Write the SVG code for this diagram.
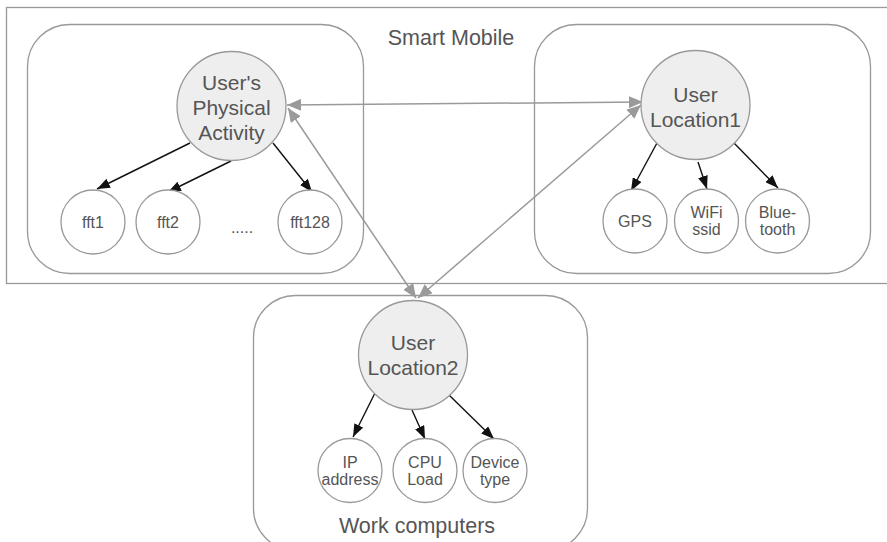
<svg xmlns="http://www.w3.org/2000/svg" width="887" height="542" viewBox="0 0 887 542">
<defs>
<style>
.box{fill:none;stroke:#999;stroke-width:1.3}
.big{fill:#eeeeee;stroke:#999;stroke-width:1.3}
.small{fill:#fff;stroke:#999;stroke-width:1.3}
text{font-family:"Liberation Sans",Arial,sans-serif;fill:#555;text-anchor:middle}
.t21{font-size:21px}
.t16{font-size:16px}
.t22{font-size:21.5px}
.g{stroke:#9a9a9a;stroke-width:1.5;fill:none;marker-start:url(#ga);marker-end:url(#ga)}
.k{stroke:#111;stroke-width:1.4;fill:none;marker-end:url(#ka)}
</style>
<marker id="ga" markerUnits="userSpaceOnUse" markerWidth="14" markerHeight="12" refX="14" refY="6" orient="auto-start-reverse" viewBox="0 0 14 12">
<path d="M0,0 L14,6 L0,12 z" fill="#9a9a9a"/>
</marker>
<marker id="ka" markerUnits="userSpaceOnUse" markerWidth="13" markerHeight="10" refX="13" refY="5" orient="auto" viewBox="0 0 13 10">
<path d="M0,0 L13,5 L0,10 z" fill="#111"/>
</marker>
</defs>

<g id="smart-mobile">
<rect class="box" x="6.5" y="7.5" width="900" height="276"/>
<text class="t22" x="451" y="45">Smart Mobile</text>
</g>
<g id="activity-group"><rect class="box" x="27.5" y="24.5" width="336" height="249" rx="42"/></g>
<g id="location1-group"><rect class="box" x="534.5" y="24.5" width="336" height="249" rx="42"/></g>
<g id="work-computers">
<rect class="box" x="253.5" y="295.5" width="334" height="255" rx="42"/>
<text class="t22" x="417" y="533">Work computers</text>
</g>

<g id="connectors">
<line class="g" x1="287" y1="105" x2="643" y2="102"/>
<line class="g" x1="288" y1="108" x2="416" y2="298"/>
<line class="g" x1="641" y1="105" x2="418" y2="298"/>
<line class="k" x1="190" y1="143" x2="97" y2="189"/>
<line class="k" x1="231" y1="161" x2="168" y2="192"/>
<line class="k" x1="273" y1="143" x2="312" y2="192"/>
<line class="k" x1="657" y1="143" x2="631" y2="191"/>
<line class="k" x1="698" y1="162" x2="707" y2="189"/>
<line class="k" x1="734" y1="143" x2="778" y2="188"/>
<line class="k" x1="375" y1="393" x2="353" y2="437"/>
<line class="k" x1="412" y1="410" x2="425" y2="439"/>
<line class="k" x1="449" y1="395" x2="494" y2="439"/>
</g>

<g id="physical-activity">
<circle class="big" cx="231.5" cy="106" r="54.5"/>
<text class="t21" x="231.5" y="90">User's</text>
<text class="t21" x="231.5" y="115">Physical</text>
<text class="t21" x="231.5" y="140">Activity</text>
</g>
<g id="fft1"><circle class="small" cx="93" cy="222" r="32"/><text class="t16" x="93" y="228">fft1</text></g>
<g id="fft2"><circle class="small" cx="168" cy="222" r="32"/><text class="t16" x="168" y="228">fft2</text></g>
<g id="dots"><text class="t16" x="242" y="233">.....</text></g>
<g id="fft128"><circle class="small" cx="310" cy="222" r="32"/><text class="t16" x="310" y="228">fft128</text></g>

<g id="user-location1">
<circle class="big" cx="695.5" cy="105" r="54.5"/>
<text class="t21" x="695.5" y="102">User</text>
<text class="t21" x="695.5" y="127">Location1</text>
</g>
<g id="gps"><circle class="small" cx="635" cy="221" r="32"/><text class="t16" x="635" y="227">GPS</text></g>
<g id="wifi"><circle class="small" cx="706.5" cy="221" r="32"/><text class="t16" x="706.5" y="218">WiFi</text><text class="t16" x="706.5" y="235">ssid</text></g>
<g id="bluetooth"><circle class="small" cx="777.5" cy="221" r="32"/><text class="t16" x="777.5" y="218">Blue-</text><text class="t16" x="777.5" y="235">tooth</text></g>

<g id="user-location2">
<circle class="big" cx="413" cy="355" r="54.5"/>
<text class="t21" x="413" y="350">User</text>
<text class="t21" x="413" y="375">Location2</text>
</g>
<g id="ip"><circle class="small" cx="350" cy="470.5" r="32"/><text class="t16" x="350" y="468">IP</text><text class="t16" x="350" y="485">address</text></g>
<g id="cpu"><circle class="small" cx="425" cy="470.5" r="32"/><text class="t16" x="425" y="468">CPU</text><text class="t16" x="425" y="485">Load</text></g>
<g id="device"><circle class="small" cx="495" cy="470.5" r="32"/><text class="t16" x="495" y="468">Device</text><text class="t16" x="495" y="485">type</text></g>
</svg>
